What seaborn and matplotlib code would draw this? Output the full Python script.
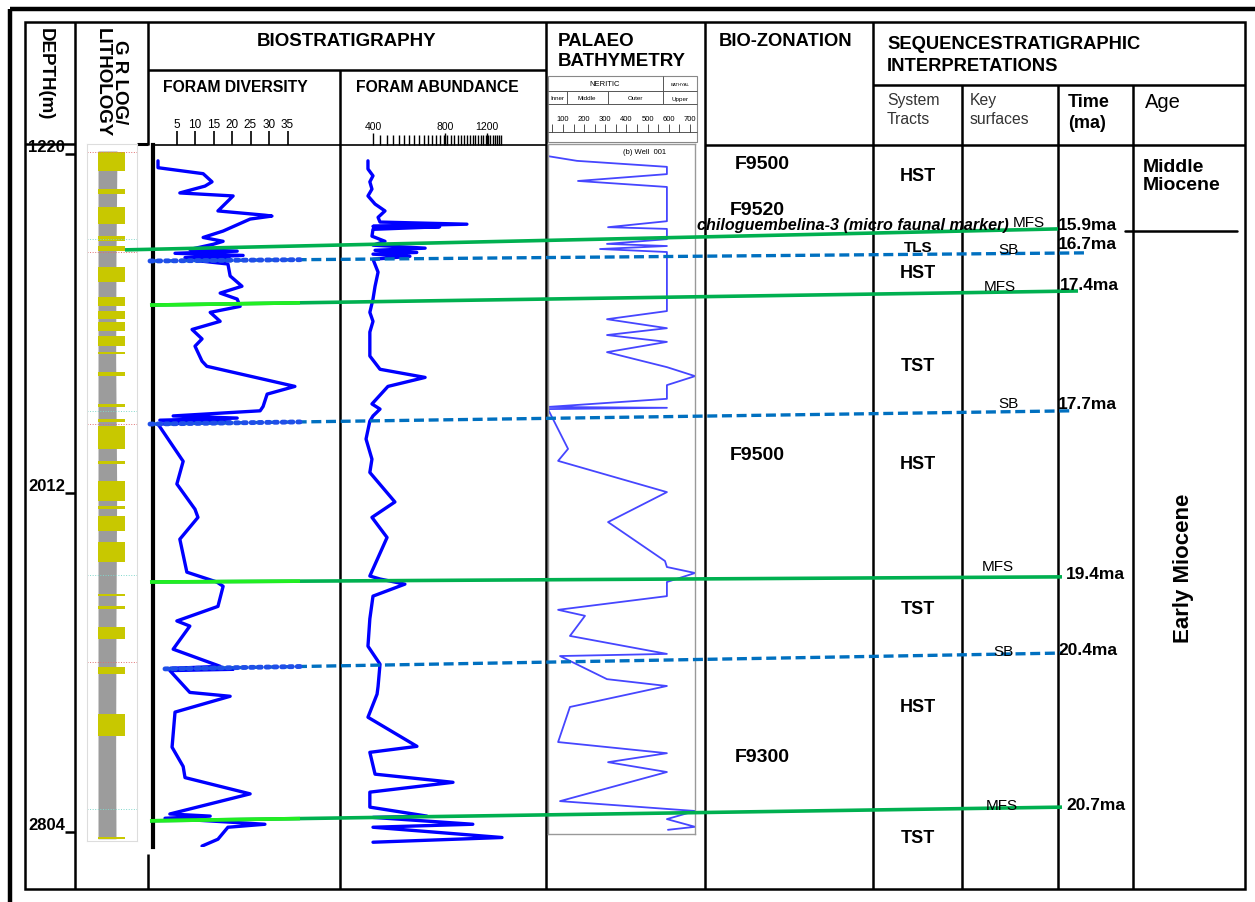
import matplotlib
matplotlib.use("Agg")
import numpy as np
import matplotlib.pyplot as plt
from matplotlib.patches import Rectangle
from matplotlib.ticker import NullFormatter
import seaborn as sns

W, H = 1255, 903
PX_PER_M = 0.428   # 1220 m at y=155 px, 2804 m at y=833 px


def depth_at(ypix):
    return 1220 + (ypix - 155) / PX_PER_M


# ---- log curves (depth m, value) ----
div_depth = [1236, 1252, 1266, 1285, 1295, 1311, 1318, 1353, 1363, 1365, 1372, 1400, 1415, 1424, 1431,
             1443, 1447, 1452, 1457, 1462, 1466, 1470, 1477, 1505, 1529, 1545, 1559, 1576, 1590, 1611,
             1630, 1652, 1669, 1704, 1716, 1763, 1781, 1810, 1820, 1832, 1837, 1842, 1846, 1851, 1938,
             1991, 2050, 2069, 2120, 2197, 2220, 2230, 2277, 2311, 2323, 2377, 2417, 2422, 2424, 2427,
             2478, 2487, 2524, 2606, 2651, 2677, 2715, 2762, 2767, 2772, 2786, 2793, 2821, 2837]
div_value = [0, 0, 12.2, 14.6, 12.7, 5.9, 20.3, 16.2, 28.9, 30.8, 24.9, 17.6, 12.2, 17.6, 14.9,
             8.6, 21.4, 4.6, 23, 7.3, 19.5, 11.4, 18.9, 19.5, 22.7, 16.8, 21.4, 22.2, 14.1, 16.8,
             9.2, 11.9, 10, 11.9, 13.2, 37, 29.5, 28.4, 27.6, 4.1, 21.4, 0.5, 19.5, 0, 6.8,
             5.1, 10, 10.8, 5.9, 7.8, 15.9, 17.6, 16.2, 5.1, 8.6, 4.1, 16.8, 3.2, 20.3, 3.2,
             8.6, 19.5, 4.6, 3.8, 6.8, 7.3, 24.9, 3.2, 14.1, 1.9, 28.9, 18.9, 16.2, 11.9]

abund_depth = [1236, 1255, 1271, 1285, 1302, 1318, 1337, 1353, 1368, 1379, 1384, 1389, 1390, 1396, 1412,
               1424, 1433, 1440, 1445, 1450, 1454, 1459, 1466, 1496, 1529, 1559, 1590, 1611, 1636, 1692,
               1723, 1742, 1763, 1804, 1816, 1832, 1844, 1886, 1933, 1964, 2033, 2069, 2116, 2206, 2213,
               2225, 2253, 2306, 2370, 2412, 2464, 2482, 2536, 2604, 2618, 2669, 2688, 2711, 2746, 2767,
               2770, 2786, 2793, 2817, 2828]
abund_value = [381, 381, 400, 388, 396, 381, 408, 449, 420, 428, 989, 400, 760, 400, 396,
               449, 400, 661, 408, 610, 400, 571, 400, 420, 408, 400, 388, 400, 388, 388,
               428, 661, 462, 396, 428, 400, 388, 374, 396, 388, 494, 396, 458, 388, 428,
               544, 400, 388, 381, 428, 420, 416, 381, 611, 388, 408, 865, 388, 388, 673,
               400, 1047, 400, 1387, 400]

bathy_depth = [1201, 1225, 1236, 1250, 1267, 1283, 1297, 1377, 1391, 1395, 1419, 1430, 1435, 1442, 1449,
               1587, 1606, 1627, 1643, 1659, 1683, 1718, 1739, 1760, 1792, 1811, 1813, 1816, 1909, 1937,
               2010, 2080, 2171, 2185, 2199, 2220, 2253, 2285, 2299, 2346, 2388, 2393, 2447, 2463, 2512,
               2594, 2620, 2641, 2664, 2732, 2755, 2774, 2792, 2799]
bathy_value = [29, 29, 166, 591, 591, 171, 591, 591, 313, 591, 591, 308, 591, 275, 591,
               591, 308, 591, 308, 591, 308, 591, 724, 591, 591, 29, 591, 29, 124, 77,
               591, 313, 582, 591, 724, 591, 591, 77, 204, 133, 591, 86, 308, 591, 133,
               77, 591, 313, 591, 86, 724, 591, 724, 596]

# lithology column
sand_top = [1215, 1302, 1344, 1412, 1435, 1484, 1554, 1587, 1613, 1645, 1683, 1729, 1804, 1839, 1856,
            1937, 1984, 2042, 2066, 2127, 2248, 2276, 2325, 2418, 2528, 2816]
sand_base = [1260, 1313, 1384, 1423, 1447, 1519, 1575, 1606, 1634, 1669, 1687, 1739, 1811, 1846, 1909,
             1944, 2031, 2049, 2101, 2173, 2253, 2283, 2353, 2434, 2579, 2820]
shale_depth = [1213, 1450, 1700, 2000, 2300, 2600, 2820]
shale_gr = [90, 87, 86, 89, 87, 86, 87]
red_marks = [1215, 1449, 1851, 2407]
cyan_marks = [1419, 1820, 2204, 2750]

depth_ticks = [1220, 2012, 2804]
div_ticks = [5, 10, 15, 20, 25, 30, 35]
abund_ticks = [400, 800, 1200]
bathy_ticks = [100, 200, 300, 400, 500, 600, 700]

# sequence stratigraphic surfaces
surf_names = ["MFS", "SB", "MFS", "SB", "MFS", "SB", "MFS"]
surf_left = [1444, 1470, 1573, 1851, 2220, 2423, 2778]
surf_right = [1395, 1451, 1540, 1820, 2208, 2386, 2746]
surf_ages = ["15.9ma", "16.7ma", "17.4ma", "17.7ma", "19.4ma", "20.4ma", "20.7ma"]
age_depth = [1384, 1430, 1524, 1804, 2201, 2377, 2741]
miocene_boundary = 1400

zones = ["F9500", "F9520", "F9500", "F9300"]
zone_depth = [1243, 1349, 1921, 2627]
tracts = ["HST", "TLS", "HST", "TST", "HST", "TST", "HST", "TST"]
tract_depth = [1271, 1437, 1496, 1715, 1942, 2283, 2512, 2816]
key_labels = ["SB", "MFS", "SB", "MFS", "SB", "MFS"]
key_depth = [1442, 1528, 1802, 2183, 2381, 2741]

# layout (pixels)
surf_x0 = [125, 150, 150, 150, 150, 165, 150]
surf_x1 = [1058, 1085, 1078, 1072, 1062, 1062, 1062]
zone_x = [735, 730, 730, 735]
key_x = [1008, 1000, 1008, 998, 1003, 1002]
age_x = [1058, 1058, 1060, 1058, 1066, 1058, 1066]

sns.set_theme(style="white")
plt.rcParams["font.family"] = ["Liberation Sans", "DejaVu Sans"]
plt.rcParams["text.color"] = "black"
plt.rcParams["xtick.color"] = "black"
plt.rcParams["ytick.color"] = "black"

fig = plt.figure(figsize=(W / 100, H / 100), dpi=100)

# background table in pixel coordinates
bg = fig.add_axes([0, 0, 1, 1])
bg.set_xlim(0, W)
bg.set_ylim(H, 0)
bg.axis("off")


def seg(x0, y0, x1, y1, lw=1.8, color="black"):
    bg.plot([x0, x1], [y0, y1], color=color, lw=lw, solid_capstyle="butt")


seg(10, 10, W, 10, lw=3.2)
seg(10, 10, 10, H, lw=3.2)
bg.add_patch(Rectangle((25, 23), 1220, 867, fill=False, lw=1.8, ec="black"))
for x in [75, 546, 705, 873]:
    seg(x, 23, x, 890)
seg(340, 71, 340, 890)
seg(148, 23, 148, 146)
seg(148, 855, 148, 890)
for x in [962, 1058, 1133]:
    seg(x, 86, x, 890)
seg(148, 71, 546, 71)
seg(873, 86, 1245, 86)
seg(705, 146, 1245, 146)
seg(25, 145, 75, 145)
seg(137, 145, 148, 145, lw=2.2)

# header texts
bg.text(45, 28, "DEPTH(m)", rotation=-90, ha="center", va="top", fontsize=13.5, fontweight="bold")
bg.text(111, 28, "G R LOG/\nLITHOLOGY", rotation=-90, ha="center", va="top", fontsize=13.5,
        fontweight="bold", linespacing=1.0)
bg.text(347, 42, "BIOSTRATIGRAPHY", ha="center", va="center", fontsize=13.5, fontweight="bold")
bg.text(163, 88, "FORAM DIVERSITY", ha="left", va="center", fontsize=11.3, fontweight="bold")
bg.text(356, 88, "FORAM ABUNDANCE", ha="left", va="center", fontsize=11.3, fontweight="bold")
bg.text(558, 33, "PALAEO\nBATHYMETRY", ha="left", va="top", fontsize=13.5, fontweight="bold",
        linespacing=1.2)
bg.text(719, 42, "BIO-ZONATION", ha="left", va="center", fontsize=13.2, fontweight="bold")
bg.text(887, 36, "SEQUENCESTRATIGRAPHIC\nINTERPRETATIONS", ha="left", va="top", fontsize=13.2,
        fontweight="bold", linespacing=1.35)
bg.text(887, 93, "System\nTracts", ha="left", va="top", fontsize=11.3, color="#333333", linespacing=1.3)
bg.text(970, 93, "Key\nsurfaces", ha="left", va="top", fontsize=11.3, color="#333333", linespacing=1.3)
bg.text(1068, 94, "Time\n(ma)", ha="left", va="top", fontsize=13, fontweight="bold", linespacing=1.3)
bg.text(1145, 103, "Age", ha="left", va="center", fontsize=14.5)

# bathymetry header box
bg.add_patch(Rectangle((548, 77), 149, 66, fill=False, lw=0.8, ec="#888888"))
for y in [92, 105, 133]:
    seg(548, y, 697, y, lw=0.7, color="#555555")
seg(663, 77, 663, 105, lw=0.7, color="#555555")
seg(567, 92, 567, 105, lw=0.7, color="#555555")
seg(608, 92, 608, 105, lw=0.7, color="#555555")
bg.text(605, 85, "NERITIC", ha="center", va="center", fontsize=5.5)
bg.text(680, 85, "BATHYAL", ha="center", va="center", fontsize=3.2)
for x, t in zip([557, 587, 635, 680], ["Inner", "Middle", "Outer", "Upper"]):
    bg.text(x, 99, t, ha="center", va="center", fontsize=4.5)
bg.text(645, 153, "(b) Well  001", ha="center", va="center", fontsize=5.5)


def track(x0, x1, y0=146, y1=848):
    ax = fig.add_axes([x0 / W, 1 - y1 / H, (x1 - x0) / W, (y1 - y0) / H])
    ax.patch.set_visible(False)
    for s in ax.spines.values():
        s.set_visible(False)
    return ax


def finish(ax, y0=146, y1=848):
    ax.set_ylim(depth_at(y1), depth_at(y0))
    ax.set_yticks([])
    ax.set_xlabel("")
    ax.set_ylabel("")


# depth scale
dax = track(25, 75)
dax.set_xticks([])
finish(dax)
dax.set_yticks(depth_ticks, labels=[str(d) for d in depth_ticks])
dax.tick_params(axis="y", left=False, right=True, direction="in", length=7, width=1.8,
                labelleft=True, labelright=False, pad=-29, labelsize=12)
for lab in dax.get_yticklabels():
    lab.set_fontweight("bold")
    lab.set_va("bottom")

# GR log / lithology
gax = track(87, 137, 145, 842)
for s in gax.spines.values():
    s.set_visible(True)
    s.set_color("#dddddd")
    s.set_linewidth(0.8)
gax.fill_betweenx(shale_depth, 33, shale_gr, color="#9c9c9c", lw=0)
for t, b in zip(sand_top, sand_base):
    gax.fill_betweenx([t, b], 33, 114, color="#C8C800", lw=0)
gax.hlines(red_marks, 0, 150, colors="#e07070", lw=0.7, linestyles=":")
gax.hlines(cyan_marks, 0, 150, colors="#80d8cc", lw=0.7, linestyles=":")
gax.set_xlim(0, 150)
gax.set_xticks([])
finish(gax, 145, 842)

# foram diversity
vax = track(153, 340)
sns.lineplot(x=div_value, y=div_depth, sort=False, estimator=None, color="#0000FF", lw=2.4, ax=vax)
vax.set_xlim(-5 / 3.7, (340 - 158) / 3.7)
vax.spines["left"].set_visible(True)
vax.spines["left"].set_color("black")
vax.spines["left"].set_linewidth(3)
vax.spines["top"].set_visible(True)
vax.spines["top"].set_color("black")
vax.spines["top"].set_linewidth(1.2)
vax.xaxis.tick_top()
vax.set_xticks(div_ticks, labels=[str(t) for t in div_ticks])
vax.tick_params(axis="x", top=True, bottom=False, direction="out", length=10, width=1.2,
                labelsize=8.5, pad=1, color="black")
finish(vax)

# foram abundance
aax = track(340, 546)
aax.set_xscale("log")
sns.lineplot(x=abund_value, y=abund_depth, sort=False, estimator=None, color="#0000FF", lw=2.4, ax=aax)
aax.set_xlim(291, 2120)
aax.spines["top"].set_visible(True)
aax.spines["top"].set_color("black")
aax.spines["top"].set_linewidth(1.2)
aax.xaxis.tick_top()
aax.set_xticks(abund_ticks, labels=[str(t) for t in abund_ticks])
aax.set_xticks(np.arange(400, 1401, 28), minor=True)
aax.xaxis.set_minor_formatter(NullFormatter())
aax.tick_params(axis="x", which="both", top=True, bottom=False, direction="out", width=1.0,
                labelsize=7.5, pad=1, color="black")
aax.tick_params(axis="x", which="major", length=9)
aax.tick_params(axis="x", which="minor", length=7)
finish(aax)

# palaeo bathymetry
bax = track(548, 695, 145, 835)
sns.lineplot(x=bathy_value, y=bathy_depth, sort=False, estimator=None, color="#4646FF", lw=1.3, ax=bax)
bax.set_xlim(29.3, 723.7)
for s in bax.spines.values():
    s.set_visible(True)
    s.set_color("#999999")
    s.set_linewidth(1.0)
bax.set_xticks([])
finish(bax, 145, 835)

sax = fig.add_axes([548 / W, 1 - 133 / H, 147 / W, 0.0005])
sax.patch.set_visible(False)
for s in sax.spines.values():
    s.set_visible(False)
sax.set_xlim(29.3, 723.7)
sax.set_yticks([])
sax.xaxis.tick_top()
sax.set_xticks(bathy_ticks, labels=[str(t) for t in bathy_ticks])
sax.set_xticks(np.arange(50, 720, 50), minor=True)
sax.tick_params(axis="x", which="both", top=True, bottom=False, direction="out", length=6,
                width=0.6, labelsize=5.5, pad=1, color="#333333")

# overlay: pixel x, depth y
ov = fig.add_axes([0, 0, 1, 1])
ov.patch.set_visible(False)
ov.set_xlim(0, W)
ov.set_ylim(depth_at(H), depth_at(0))
ov.axis("off")

for name, dl, dr, x0, x1 in zip(surf_names, surf_left, surf_right, surf_x0, surf_x1):
    if name == "MFS":
        ov.plot([x0, x1], [dl, dr], color="#00B050", lw=2.6, solid_capstyle="butt")
        if x0 >= 150:
            ov.plot([150, 300], [dl, np.interp(300, [x0, x1], [dl, dr])], color="#22EE22", lw=2.6,
                    solid_capstyle="butt")
    else:
        ov.plot([x0, x1], [dl, dr], color="#0070C0", lw=2.4, dashes=(3, 1.4))
        ov.plot([x0, 300], [dl, np.interp(300, [x0, x1], [dl, dr])], color="#1f4fe8", lw=3.5,
                linestyle=(0, (0.6, 1.0)), dash_capstyle="round")

ov.plot([1125, 1237], [miocene_boundary, miocene_boundary], color="black", lw=1.8)

for t, d, x in zip(zones, zone_depth, zone_x):
    ov.text(x, d, t, ha="left", va="center", fontsize=14, fontweight="bold")
ov.text(697, 1384, "chiloguembelina-3 (micro faunal marker)", ha="left", va="center", fontsize=11.6,
        fontweight="bold", fontstyle="italic")
ov.text(1013, 1379, "MFS", ha="left", va="center", fontsize=11)
for t, d in zip(tracts, tract_depth):
    ov.text(918, d, t, ha="center", va="center", fontsize=13 if t != "TLS" else 11, fontweight="bold")
for t, d, x in zip(key_labels, key_depth, key_x):
    ov.text(x, d, t, ha="center", va="center", fontsize=11)
for t, d, x in zip(surf_ages, age_depth, age_x):
    ov.text(x, d, t, ha="left", va="center", fontsize=12.5, fontweight="bold")
ov.text(1143, 1271, "Middle\nMiocene", ha="left", va="center", fontsize=14, fontweight="bold",
        linespacing=1.1)
ov.text(1183, 2185, "Early Miocene", rotation=90, ha="center", va="center", fontsize=16,
        fontweight="bold")

fig.savefig("out.png", dpi=100)
